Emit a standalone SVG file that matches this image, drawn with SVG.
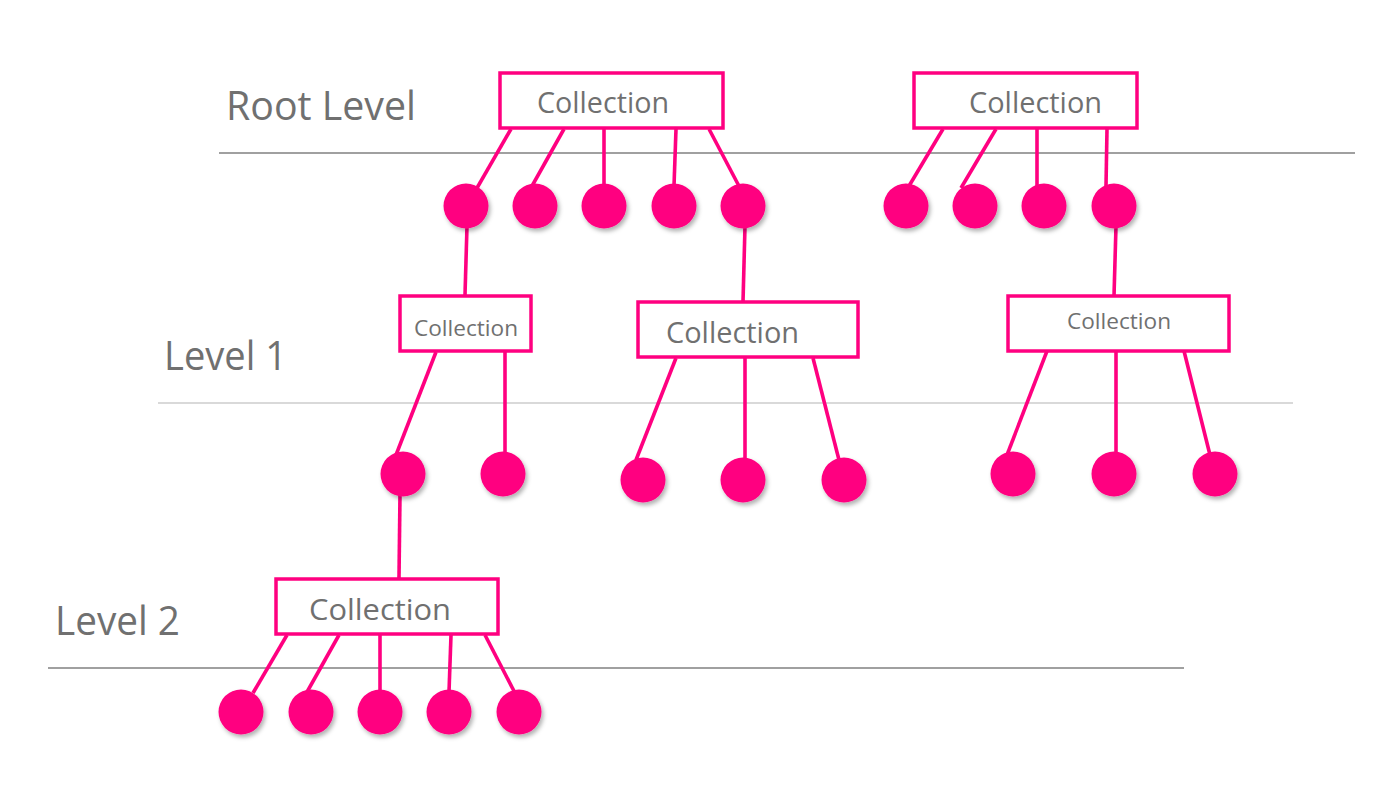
<svg xmlns="http://www.w3.org/2000/svg" width="1400" height="805" viewBox="0 0 1400 805">
<style>
.sep{stroke:#808080;stroke-width:1.3}
.sep2{stroke:#cccccc;stroke-width:1.5}
.lvl{font-family:"Open Sans","Noto Sans",sans-serif;font-size:40px;fill:#707070}
.box{fill:#fff;stroke:#ff0080;stroke-width:3.5}
.lbl{font-family:"Open Sans","Noto Sans",sans-serif;fill:#707070}
.big{font-size:29px}
.sm{font-size:22.5px}
.dot{fill:#ff0080;filter:url(#sh)}
.c line{stroke:#ff0080;stroke-width:3.6;stroke-linecap:butt}
</style>
<defs>
<filter id="sh" x="-40%" y="-40%" width="180%" height="180%">
<feDropShadow dx="2" dy="3" stdDeviation="2.2" flood-color="#000" flood-opacity="0.3"/>
</filter>
</defs>
<rect width="1400" height="805" fill="#fff"/>
<g id="levels">
<line class="sep" x1="219" y1="153" x2="1355" y2="153"/>
<line class="sep2" x1="158" y1="403" x2="1293" y2="403"/>
<line class="sep" x1="48" y1="668" x2="1184" y2="668"/>
<text class="lvl" x="226" y="120" textLength="190" lengthAdjust="spacingAndGlyphs">Root Level</text>
<text class="lvl" x="164" y="370" textLength="123" lengthAdjust="spacingAndGlyphs">Level 1</text>
<text class="lvl" x="55" y="635" textLength="125" lengthAdjust="spacingAndGlyphs">Level 2</text>
</g>
<g id="connectors" class="c">
<line x1="511" y1="129" x2="477" y2="188"/>
<line x1="564" y1="129" x2="532" y2="186"/>
<line x1="604" y1="129" x2="604" y2="186"/>
<line x1="676" y1="129" x2="674" y2="186"/>
<line x1="709" y1="129" x2="740" y2="188"/>
<line x1="943" y1="129" x2="909" y2="186"/>
<line x1="996" y1="129" x2="961" y2="188"/>
<line x1="1037" y1="129" x2="1037" y2="186"/>
<line x1="1107" y1="129" x2="1106" y2="186"/>
<line x1="467" y1="226" x2="465" y2="295"/>
<line x1="745" y1="226" x2="743" y2="302"/>
<line x1="1116" y1="226" x2="1114" y2="296"/>
<line x1="436" y1="352" x2="396" y2="455"/>
<line x1="505" y1="352" x2="505" y2="454"/>
<line x1="676" y1="358" x2="636" y2="460"/>
<line x1="745" y1="358" x2="745" y2="460"/>
<line x1="813" y1="358" x2="839" y2="460"/>
<line x1="1047" y1="351" x2="1007" y2="455"/>
<line x1="1116" y1="351" x2="1116" y2="454"/>
<line x1="1184" y1="351" x2="1210" y2="455"/>
<line x1="400" y1="494" x2="399" y2="578"/>
<line x1="287" y1="635" x2="253" y2="693"/>
<line x1="339" y1="635" x2="307" y2="692"/>
<line x1="380" y1="635" x2="380" y2="692"/>
<line x1="451" y1="635" x2="449" y2="692"/>
<line x1="485" y1="635" x2="515" y2="693"/>
</g>
<g id="root1">
<rect class="box" x="500" y="73" width="223" height="55"/>
<text class="lbl big" x="537" y="113" textLength="132" lengthAdjust="spacingAndGlyphs">Collection</text>
</g>
<g id="root2">
<rect class="box" x="914" y="73" width="223" height="55"/>
<text class="lbl big" x="969" y="113" textLength="133" lengthAdjust="spacingAndGlyphs">Collection</text>
</g>
<g id="l1a">
<rect class="box" x="400" y="296" width="131" height="55"/>
<text class="lbl sm" x="414" y="336" textLength="104" lengthAdjust="spacingAndGlyphs">Collection</text>
</g>
<g id="l1b">
<rect class="box" x="638" y="302" width="220" height="55"/>
<text class="lbl big" x="666" y="343" textLength="133" lengthAdjust="spacingAndGlyphs">Collection</text>
</g>
<g id="l1c">
<rect class="box" x="1008" y="296" width="221" height="55"/>
<text class="lbl sm" x="1067" y="329" textLength="104" lengthAdjust="spacingAndGlyphs">Collection</text>
</g>
<g id="l2">
<rect class="box" x="276" y="579" width="222" height="55"/>
<text class="lbl big" x="309" y="620" textLength="142" lengthAdjust="spacingAndGlyphs">Collection</text>
</g>
<g id="dots-root">
<circle class="dot" cx="466" cy="206" r="22.5"/>
<circle class="dot" cx="535" cy="206" r="22.5"/>
<circle class="dot" cx="604" cy="206" r="22.5"/>
<circle class="dot" cx="674" cy="206" r="22.5"/>
<circle class="dot" cx="743" cy="206" r="22.5"/>
<circle class="dot" cx="906" cy="206" r="22.5"/>
<circle class="dot" cx="975" cy="206" r="22.5"/>
<circle class="dot" cx="1044" cy="206" r="22.5"/>
<circle class="dot" cx="1114" cy="206" r="22.5"/>
</g>
<g id="dots-l1">
<circle class="dot" cx="403" cy="474" r="22.5"/>
<circle class="dot" cx="503" cy="474" r="22.5"/>
<circle class="dot" cx="643" cy="480" r="22.5"/>
<circle class="dot" cx="743" cy="480" r="22.5"/>
<circle class="dot" cx="844" cy="480" r="22.5"/>
<circle class="dot" cx="1013" cy="474" r="22.5"/>
<circle class="dot" cx="1114" cy="474" r="22.5"/>
<circle class="dot" cx="1215" cy="474" r="22.5"/>
</g>
<g id="dots-l2">
<circle class="dot" cx="241" cy="712" r="22.5"/>
<circle class="dot" cx="311" cy="712" r="22.5"/>
<circle class="dot" cx="380" cy="712" r="22.5"/>
<circle class="dot" cx="449" cy="712" r="22.5"/>
<circle class="dot" cx="519" cy="712" r="22.5"/>
</g>
</svg>
